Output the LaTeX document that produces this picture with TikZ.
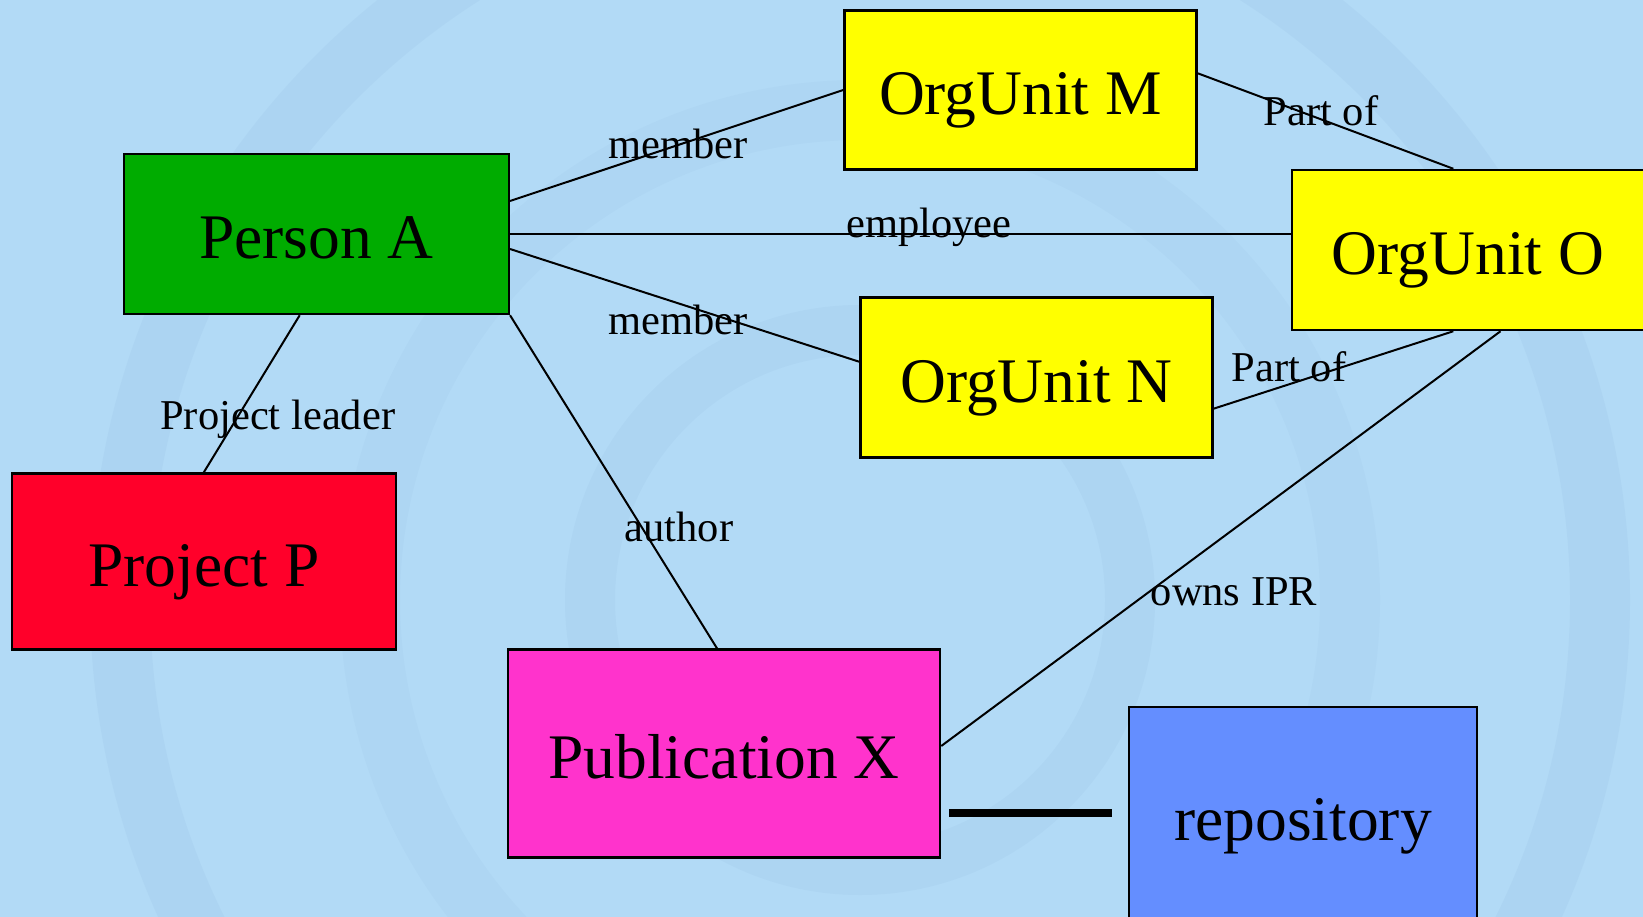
\documentclass[tikz,border=0pt]{standalone}
\usepackage{fontspec}
\setmainfont{Liberation Serif}
\usepackage{tikz}
\definecolor{bgblue}{RGB}{178,218,246}
\definecolor{swirlblue}{RGB}{110,150,195}
\definecolor{boxgreen}{RGB}{0,172,0}
\definecolor{boxyellow}{RGB}{255,255,0}
\definecolor{boxred}{RGB}{255,0,42}
\definecolor{boxpink}{RGB}{255,51,204}
\definecolor{boxblue}{RGB}{100,142,255}

\begin{document}
\begin{tikzpicture}[x=1pt,y=-1pt,
    entity/.style={draw=black,line width=2.5pt,inner sep=0pt,text height=50pt,text depth=0pt,
        font=\fontsize{63.5}{70}\selectfont},
    rel/.style={line width=2pt},
    tag/.style={inner sep=0pt,text depth=0pt,font=\fontsize{42.5}{50}\selectfont}]
            \useasboundingbox (0,0) rectangle (1643,917);
            \clip (0,0) rectangle (1643,917);
            \fill[bgblue] (0,0) rectangle (1643,917);
            \draw[swirlblue,opacity=.07,line width=50pt] (860,600) circle (270);
            \draw[swirlblue,opacity=.06,line width=60pt] (860,600) circle (490);
            \draw[swirlblue,opacity=.08,line width=60pt] (860,600) circle (740);
            % entities
            \node[entity,fill=boxyellow,minimum width=352,minimum height=159] (orgM) at (1020.5,90) {OrgUnit M};
            \node[entity,fill=boxgreen,minimum width=385,minimum height=160] (personA) at (316.3,234) {Person A};
            \node[entity,fill=boxyellow,minimum width=352,minimum height=160] (orgO) at (1468,250) {OrgUnit O};
            \node[entity,fill=boxyellow,minimum width=352,minimum height=160] (orgN) at (1036.3,377.7) {OrgUnit N};
            \node[entity,fill=boxred,minimum width=384,minimum height=176] (projP) at (203.8,561.6) {Project P};
            \node[entity,fill=boxpink,minimum width=432,minimum height=208] (pubX) at (724,753.6) {Publication X};
            \node[entity,fill=boxblue,minimum width=348,minimum height=216] (repo) at (1303,815) {repository};
            % relations
            \draw[rel] ([yshift=33]personA.east) -- (orgM.west);
            \draw[rel] (personA.east) -- (personA.east -| orgO.west);
            \draw[rel] ([yshift=-15]personA.east) -- ([yshift=16]orgN.west);
            \draw[rel] ([xshift=-16.6]personA.south) -- (projP.north);
            \draw[rel] (personA.south east) -- ([xshift=-7]pubX.north);
            \draw[rel] ([yshift=16.7]orgM.east) -- ([xshift=-14.7]orgO.north);
            \draw[rel] ([yshift=-31]orgN.east) -- ([xshift=-14.7]orgO.south);
            \draw[rel] ([xshift=32.5]orgO.south) -- ([yshift=7.6]pubX.east);
            \draw[line width=8pt,shorten <=8,shorten >=16] ([yshift=-59]pubX.east) -- ([yshift=-59]pubX.east -| repo.west);
            % relation names
            \node[tag] (tMemberM) at (678,143.5) {member};
            \node[tag] (tPartM) at (1321,111) {Part of};
            \node[tag] (tEmployee) at (929,223) {employee};
            \node[tag] (tMemberN) at (678,319.6) {member};
            \node[tag] (tPartN) at (1289,366.7) {Part of};
            \node[tag] (tLeader) at (277.7,415) {Project leader};
            \node[tag] (tAuthor) at (679,527) {author};
            \node[tag] (tOwns) at (1234,592) {owns IPR};
        \end{tikzpicture}
\end{document}
